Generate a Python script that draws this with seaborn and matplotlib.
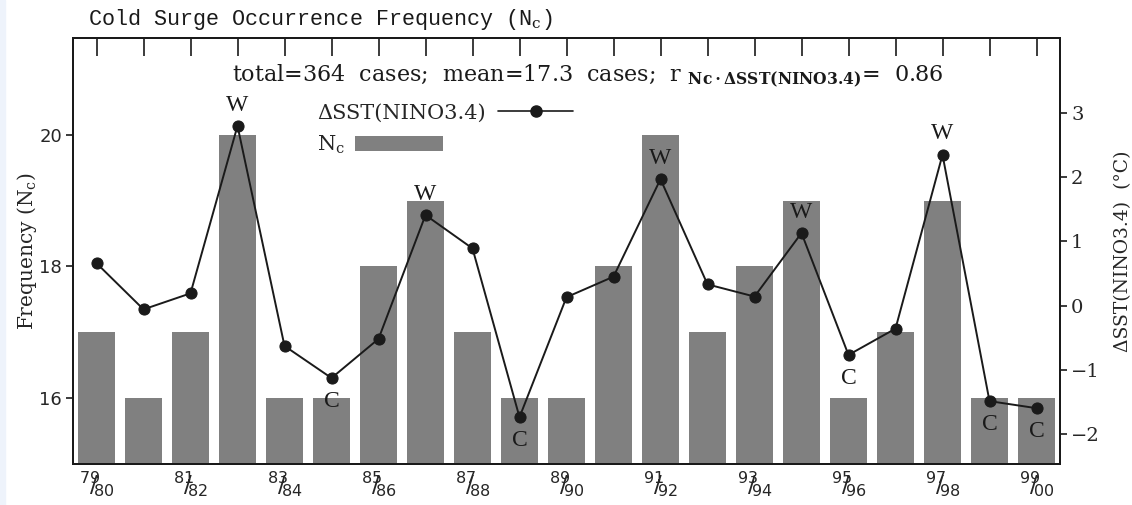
import numpy as np
import pandas as pd
import matplotlib
matplotlib.use("Agg")
import matplotlib.pyplot as plt
import matplotlib.patches as mpatches
from matplotlib.lines import Line2D
import seaborn as sns

# Winter seasons 1979/80 - 1999/00
seasons = ["79/80", "80/81", "81/82", "82/83", "83/84", "84/85", "85/86",
           "86/87", "87/88", "88/89", "89/90", "90/91", "91/92", "92/93",
           "93/94", "94/95", "95/96", "96/97", "97/98", "98/99", "99/00"]

# Cold surge occurrence frequency per season
freq = [17, 16, 17, 20, 16, 16, 18, 19, 17, 16, 16, 18, 20, 17, 18, 19,
        16, 17, 19, 16, 16]

# NINO3.4 SST anomaly (deg C)
dsst = [0.66, -0.06, 0.19, 2.80, -0.63, -1.13, -0.52, 1.41, 0.89, -1.74,
        0.13, 0.45, 1.97, 0.33, 0.14, 1.13, -0.77, -0.36, 2.35, -1.49, -1.60]

# ENSO phase markers: W = warm, C = cold
phase = ["", "", "", "W", "", "C", "", "W", "", "C", "", "", "W", "",
         "", "W", "C", "", "W", "C", "C"]

# Every other season is labelled, written as a stacked fraction
tick_labels = [r"$^{%s}\!\!\!/\!_{%s}$" % tuple(s.split("/")) if i % 2 == 0
               else "" for i, s in enumerate(seasons)]

df = pd.DataFrame({"season": seasons, "freq": freq, "dsst": dsst,
                   "pos": np.arange(len(seasons))})

sns.set_theme(style="ticks")
plt.rcParams["font.family"] = ["DejaVu Serif", "DejaVu Sans"]
plt.rcParams["mathtext.fontset"] = "dejavuserif"
plt.rcParams["axes.linewidth"] = 1.4

BAR = "#808080"
INK = "#1a1a1a"

fig = plt.figure(figsize=(11.32, 5.05), dpi=100)
fig.patch.set_facecolor("white")
fig.add_artist(mpatches.Rectangle((0, 0), 0.004, 1, transform=fig.transFigure,
                                  color="#eef3fb", zorder=0))

ax = fig.add_axes([73 / 1132, 1 - 464 / 505, 987 / 1132, 426 / 505])

sns.barplot(data=df, x="season", y="freq", color=BAR, saturation=1,
            width=0.8, ax=ax, edgecolor="none")
for p in ax.patches:
    p.set_facecolor(BAR)

ax.set_xlim(-0.5, len(seasons) - 0.5)
ax.set_ylim(15.0, 21.47)
ax.set_xticks(np.arange(len(seasons)))
ax.set_xticklabels(tick_labels, fontsize=16.5)
for t in ax.get_xticklabels():
    t.set_math_fontfamily("dejavusans")
ax.set_yticks([16, 18, 20])
ax.set_yticklabels(["16", "18", "20"], fontsize=13, family="DejaVu Sans")
ax.tick_params(axis="x", direction="in", length=13, width=1.2, top=True,
               bottom=True, color=INK, pad=4)
ax.tick_params(axis="y", direction="out", length=5, width=1.2, color=INK,
               pad=3)
ax.set_xlabel("")
ax.set_ylabel(r"Frequency (N$_{\rm c}$)", fontsize=14.5, labelpad=0)
for s in ax.spines.values():
    s.set_color(INK)
    s.set_visible(True)

ax2 = ax.twinx()
sns.lineplot(data=df, x="pos", y="dsst", ax=ax2, color=INK, linewidth=1.4,
             marker="o", markersize=8, markeredgecolor=INK,
             markerfacecolor=INK, legend=False)
ax2.set_ylim(-2.47, 4.17)
ax2.set_yticks([-2, -1, 0, 1, 2, 3])
ax2.set_yticklabels(["\u22122", "\u22121", "0", "1", "2", "3"], fontsize=14)
ax2.tick_params(axis="y", direction="out", length=5, width=1.2, color=INK,
                pad=3)
ax2.set_ylabel("\u0394SST(NINO3.4)  (\u00b0C)", fontsize=13.5, labelpad=10)
ax2.set_xlabel("")
for s in ax2.spines.values():
    s.set_color(INK)

# Warm / cold season markers
for i, (tag, v) in enumerate(zip(phase, dsst)):
    if not tag:
        continue
    dy = 15 if tag == "W" else -17
    ax2.annotate(tag, (i, v), xytext=(0, dy), textcoords="offset points",
                 ha="center", va="center", fontsize=17,
                 family="Liberation Serif", color=INK)

# Statistics line
ax.text(0.522, 0.909,
        r"total=364  cases;  mean=17.3  cases;  r $_{\mathbf{Nc\cdot\Delta SST(NINO3.4)}}$=  0.86",
        transform=ax.transAxes, ha="center", va="center", fontsize=16,
        color=INK)

# Legends (label first, key after)
h_line = Line2D([], [], color=INK, linewidth=1.2, marker="o", markersize=8,
                markerfacecolor=INK, markeredgecolor=INK)
leg1 = ax2.legend([h_line], ["\u0394SST(NINO3.4)"], loc="center left",
                  bbox_to_anchor=(317 / 1132, 1 - 113 / 505),
                  bbox_transform=fig.transFigure, markerfirst=False,
                  frameon=False, fontsize=15, handlelength=3.6,
                  handletextpad=0.6, borderpad=0, borderaxespad=0)
ax2.add_artist(leg1)
h_bar = mpatches.Patch(facecolor=BAR, edgecolor="none")
leg2 = ax2.legend([h_bar], [r"N$_{\rm c}$"], loc="center left",
                  bbox_to_anchor=(317 / 1132, 1 - 145 / 505),
                  bbox_transform=fig.transFigure, markerfirst=False,
                  frameon=False, fontsize=15, handlelength=4.2,
                  handleheight=0.75, handletextpad=0.5, borderpad=0,
                  borderaxespad=0)

fig.text(88 / 1132, 1 - 20 / 505,
         r"Cold Surge Occurrence Frequency (N$_{\rm c}$)",
         ha="left", va="center", fontsize=15.7, color=INK,
         family="Liberation Mono")

fig.savefig("out.png", dpi=100, facecolor="white")
